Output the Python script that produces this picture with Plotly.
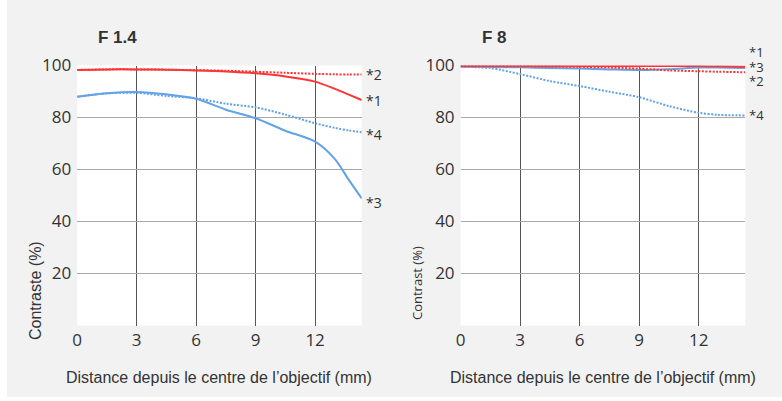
import plotly.graph_objects as go

# ---- data ----
x_f14 = [0, 1.5, 3, 4.5, 6, 7.5, 9, 10.5, 12, 13, 13.7, 14.35]
f14_s1 = [98.3, 98.5, 98.5, 98.4, 98.1, 97.7, 97.0, 95.8, 93.8, 91.0, 88.8, 86.7]
f14_s2 = [98.3, 98.5, 98.5, 98.4, 98.2, 98.0, 97.6, 97.2, 96.8, 96.6, 96.5, 96.5]
f14_s3 = [88.0, 89.3, 89.8, 88.9, 87.2, 83.0, 79.7, 74.9, 70.7, 64.0, 56.0, 48.9]
f14_s4 = [88.0, 89.3, 89.5, 88.3, 87.4, 85.3, 83.9, 81.1, 77.8, 76.0, 75.0, 74.3]

x_f8 = [0, 1.5, 3, 4.5, 6, 7.5, 9, 10.5, 12, 13, 14.35]
f8_s1 = [99.8, 99.8, 99.8, 99.8, 99.8, 99.8, 99.8, 99.8, 99.8, 99.7, 99.5]
f8_s2 = [99.8, 99.8, 99.7, 99.6, 99.5, 99.2, 98.8, 98.1, 97.8, 97.6, 97.4]
f8_s3 = [99.5, 99.4, 99.3, 99.0, 98.8, 98.5, 98.3, 98.6, 99.2, 99.2, 99.0]
f8_s4 = [99.5, 99.0, 96.7, 94.0, 92.1, 89.9, 87.8, 84.4, 81.8, 81.0, 80.8]

x_ticks = [0, 3, 6, 9, 12]
y_ticks = [20, 40, 60, 80, 100]
x_grid = [3, 6, 9, 12]
y_grid = [20, 40, 60, 80]

titles = ["F 1.4", "F 8"]
y_titles = ["Contraste (%)", "Contrast (%)"]
x_title = "Distance depuis le centre de l\u2019objectif (mm)"
labels = ["*1", "*2", "*3", "*4"]

RED = "#ff3434"
BLUE = "#62a2e6"
TXT = "#333333"

fig = go.Figure()

def add_panel(xv, s1, s2, s3, s4, xa, ya):
    styles = [
        (s4, BLUE, "2px,1.5px"),
        (s3, BLUE, "solid"),
        (s2, RED, "2px,1.5px"),
        (s1, RED, "solid"),
    ]
    for ys, col, dash in styles:
        fig.add_trace(go.Scatter(
            x=xv, y=ys, mode="lines", xaxis=xa, yaxis=ya,
            line=dict(color=col, width=2, dash=dash, shape="spline", smoothing=0.8),
            showlegend=False, hoverinfo="skip"))

add_panel(x_f14, f14_s1, f14_s2, f14_s3, f14_s4, "x", "y")
add_panel(x_f8, f8_s1, f8_s2, f8_s3, f8_s4, "x2", "y2")

W, H = 782, 401
dom1 = [77.2 / W, 361.7 / W]
dom2 = [460.6 / W, 745.3 / W]
ydom = [(H - 325.5) / H, (H - 65.5) / H]

def xaxis(domain, anchor):
    return dict(domain=domain, anchor=anchor, range=[0, 14.35], tickmode="array",
                tickvals=x_ticks, showgrid=False, zeroline=False, showline=False,
                ticks="", ticklabelstandoff=2, automargin=False,
                tickfont=dict(family="Open Sans", size=17, color=TXT),
                minor=dict(tickmode="array", tickvals=x_grid, showgrid=True,
                           gridcolor="#555555", gridwidth=1, ticks=""),
                fixedrange=True)

def yaxis(anchor):
    return dict(domain=ydom, anchor=anchor, range=[0, 100], tickmode="array",
                tickvals=y_ticks, showgrid=False, zeroline=False, showline=False,
                ticks="", ticklabelstandoff=5, automargin=False,
                tickfont=dict(family="Open Sans", size=17, color=TXT),
                minor=dict(tickmode="array", tickvals=y_grid, showgrid=True,
                           gridcolor="#a8a8a8", gridwidth=1, ticks=""),
                fixedrange=True)

annotations = []
for dom, t in zip([dom1, dom2], titles):
    annotations.append(dict(text="<b>%s</b>" % t, xref="paper", yref="paper",
                            x=dom[0] + 19 / W, y=(H - 37) / H, xanchor="left", yanchor="middle",
                            showarrow=False, font=dict(family="Liberation Sans", size=17, color=TXT)))
annotations.append(dict(text=y_titles[0], xref="paper", yref="paper", x=35 / W, y=(H - 291) / H,
                        textangle=-90, showarrow=False, xanchor="center", yanchor="middle",
                        font=dict(family="Liberation Sans", size=16, color=TXT)))
annotations.append(dict(text=y_titles[1], xref="paper", yref="paper", x=417 / W, y=(H - 283) / H,
                        textangle=-90, showarrow=False, xanchor="center", yanchor="middle",
                        font=dict(family="Open Sans", size=13, color=TXT)))
for dom in [dom1, dom2]:
    annotations.append(dict(text=x_title, xref="paper", yref="paper",
                            x=(dom[0] + dom[1]) / 2, y=(H - 377) / H,
                            xanchor="center", yanchor="middle", showarrow=False,
                            font=dict(family="Liberation Sans", size=16, color=TXT)))

ends14 = [f14_s1[-1], f14_s2[-1], f14_s3[-1], f14_s4[-1]]
shifts14 = [0, 0, -4, -2]
for lab, v, s in zip(labels, ends14, shifts14):
    annotations.append(dict(text=lab, xref="x", yref="y", x=x_f14[-1], y=v, yshift=s, xshift=2,
                            xanchor="left", yanchor="middle", showarrow=False,
                            font=dict(family="Open Sans", size=14, color=TXT)))
ends8 = [f8_s1[-1], f8_s2[-1], f8_s3[-1], f8_s4[-1]]
shifts8 = [15, -9, 1, 0]
for lab, v, s in zip(labels, ends8, shifts8):
    annotations.append(dict(text=lab, xref="x2", yref="y2", x=x_f8[-1], y=v, yshift=s, xshift=2,
                            xanchor="left", yanchor="middle", showarrow=False,
                            font=dict(family="Open Sans", size=13, color=TXT)))

shapes = [
    dict(type="rect", xref="paper", yref="paper", x0=0, x1=7 / W, y0=0, y1=1,
         fillcolor="white", line=dict(width=0), layer="below"),
    dict(type="rect", xref="paper", yref="paper", x0=0, x1=1, y0=0, y1=(H - 397) / H,
         fillcolor="white", line=dict(width=0), layer="below"),
]

fig.update_layout(
    width=W, height=H, margin=dict(l=0, r=0, t=0, b=0),
    paper_bgcolor="#f2f2f2", plot_bgcolor="white",
    xaxis=xaxis(dom1, "y"), yaxis=yaxis("x"),
    xaxis2=xaxis(dom2, "y2"), yaxis2=yaxis("x2"),
    annotations=annotations, shapes=shapes, showlegend=False,
)

fig.write_html("out.html", config={"displayModeBar": False},
               post_script="document.body.style.margin='0';document.body.style.overflow='hidden';")
